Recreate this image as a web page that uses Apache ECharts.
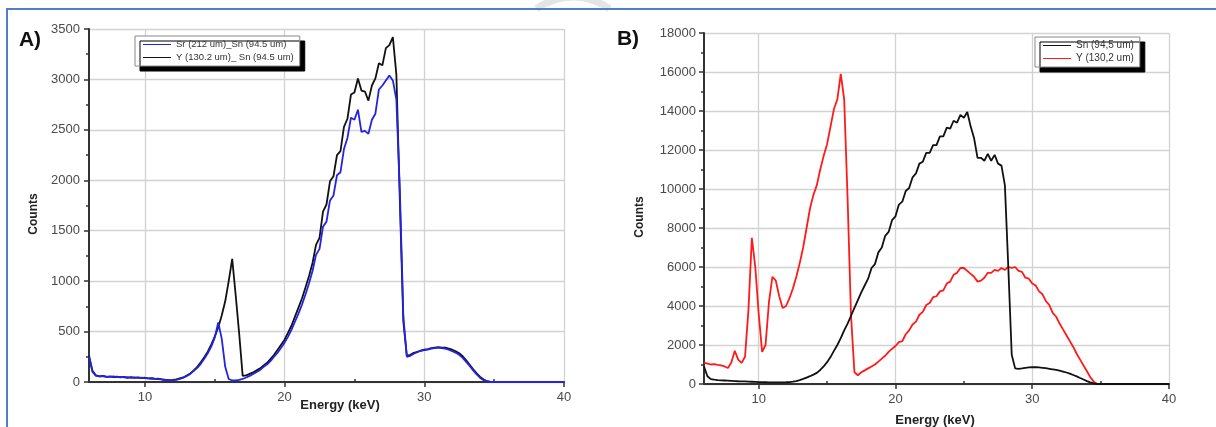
<!DOCTYPE html>
<html>
<head>
<meta charset="utf-8">
<script src="https://cdn.jsdelivr.net/npm/echarts@6/dist/echarts.min.js"></script>
<style>
html, body { margin: 0; padding: 0; background: #fff; }
#chart { width: 1216px; height: 427px; }
</style>
</head>
<body>
<div id="chart"></div>
<script>
// energie (keV), commune aux deux spectres
var energy = [
	6, 6.25, 6.5, 6.75, 7, 7.25, 7.5, 7.75,
	8, 8.25, 8.5, 8.75, 9, 9.25, 9.5, 9.75,
	10, 10.25, 10.5, 10.75, 11, 11.25, 11.5, 11.75,
	12, 12.25, 12.5, 12.75, 13, 13.25, 13.5, 13.75,
	14, 14.25, 14.5, 14.75, 15, 15.25, 15.5, 15.75,
	16, 16.25, 16.5, 16.75, 17, 17.25, 17.5, 17.75,
	18, 18.25, 18.5, 18.75, 19, 19.25, 19.5, 19.75,
	20, 20.25, 20.5, 20.75, 21, 21.25, 21.5, 21.75,
	22, 22.25, 22.5, 22.75, 23, 23.25, 23.5, 23.75,
	24, 24.25, 24.5, 24.75, 25, 25.25, 25.5, 25.75,
	26, 26.25, 26.5, 26.75, 27, 27.25, 27.5, 27.75,
	28, 28.25, 28.5, 28.75, 29, 29.25, 29.5, 29.75,
	30, 30.25, 30.5, 30.75, 31, 31.25, 31.5, 31.75,
	32, 32.25, 32.5, 32.75, 33, 33.25, 33.5, 33.75,
	34, 34.25, 34.5, 34.75, 35, 40
];

// panneau A : Sr (212 um)_Sn (94.5 um)
var countsSrSn = [
	250, 100, 60, 55, 58, 52, 50, 55,
	48, 50, 45, 48, 42, 45, 40, 42,
	38, 36, 32, 30, 28, 24, 20, 16,
	18, 22, 30, 42, 60, 80, 110, 140,
	180, 230, 285, 350, 440, 590, 430, 150,
	30, 15, 15, 20, 30, 45, 60, 80,
	100, 120, 150, 175, 210, 250, 290, 340,
	390, 450, 520, 600, 680, 770, 870, 980,
	1100, 1260, 1320, 1540, 1590, 1800, 1850, 2050,
	2080, 2310, 2420, 2620, 2600, 2700, 2480, 2490,
	2460, 2600, 2660, 2900, 2940, 2990, 3040, 2990,
	2800, 1900, 650, 250, 260, 280, 295, 310,
	315, 320, 330, 335, 340, 335, 330, 320,
	305, 290, 270, 240, 200, 160, 115, 75,
	40, 18, 5, 0, 0, 0
];

// panneau A : Y (130.2 um)_ Sn (94.5 um)
var countsYSn = [
	260, 110, 65, 55, 60, 50, 55, 48,
	52, 45, 50, 42, 48, 40, 45, 38,
	42, 35, 38, 30, 32, 25, 22, 18,
	20, 25, 35, 45, 65, 85, 115, 150,
	195, 245, 300, 370, 450, 540, 660, 800,
	1000, 1220, 860, 480, 60, 65, 80, 95,
	115, 135, 165, 190, 230, 270, 320, 370,
	420, 490, 560, 650, 740, 830, 940, 1050,
	1180, 1360, 1430, 1690, 1760, 1990, 2040, 2250,
	2290, 2530, 2610, 2850, 2870, 3010, 2890, 2880,
	2790, 2940, 3010, 3160, 3140, 3310, 3340, 3420,
	3050, 1800, 600, 260, 270, 290, 300, 310,
	320, 325, 335, 340, 345, 340, 340, 330,
	320, 305, 285, 255, 215, 170, 125, 85,
	50, 25, 8, 0, 0, 0
];

// panneau B : Sn (94,5 um)
var countsSn = [
	900, 400, 250, 220, 200, 190, 180, 170,
	160, 150, 140, 135, 130, 120, 115, 110,
	100, 95, 90, 85, 80, 80, 80, 85,
	90, 100, 120, 150, 200, 260, 330, 400,
	480, 570, 720, 900, 1120, 1380, 1700, 2000,
	2350, 2750, 3100, 3500, 3900, 4300, 4700, 5050,
	5400, 5950, 6150, 6750, 7000, 7600, 7800, 8400,
	8600, 9200, 9350, 9900, 10050, 10600, 10800, 11300,
	11400, 11850, 11850, 12250, 12250, 12700, 12700, 13150,
	13100, 13500, 13400, 13800, 13650, 13950, 13200, 12600,
	11600, 11600, 11450, 11800, 11450, 11750, 11300, 11200,
	10200, 6000, 1500, 800, 780, 800, 830, 850,
	870, 860, 850, 830, 810, 780, 750, 720,
	680, 640, 590, 530, 460, 390, 310, 230,
	150, 80, 30, 0, 0, 0
];

// panneau B : Y (130,2 um)
var countsY = [
	1100, 1050, 1000, 1020, 980, 950, 900, 820,
	1100, 1700, 1250, 1080, 1400, 3800, 7500, 6000,
	3600, 1650, 2000, 4200, 5500, 5300, 4500, 3900,
	4000, 4400, 4900, 5500, 6200, 7000, 8000, 9000,
	9700, 10200, 11000, 11700, 12300, 13200, 14100, 14600,
	15900, 14600, 9500, 3500, 600, 450, 600, 700,
	800, 900, 1000, 1150, 1300, 1450, 1650, 1800,
	1950, 2150, 2200, 2550, 2750, 3050, 3200, 3550,
	3700, 4050, 4150, 4450, 4500, 4750, 4800, 5150,
	5250, 5600, 5700, 5950, 5950, 5800, 5650, 5500,
	5250, 5300, 5450, 5700, 5700, 5850, 5800, 5950,
	5850, 6000, 5950, 6000, 5800, 5750, 5450, 5400,
	5150, 5050, 4750, 4600, 4250, 4050, 3650, 3450,
	3100, 2800, 2500, 2200, 1900, 1550, 1250, 950,
	650, 350, 120, 0, 0, 0
];

var xMajor = [10, 20, 30, 40];
var xMinor = [15, 25, 35];
var legendA = ['Sr (212 um)_Sn (94.5 um)', 'Y (130.2 um)_ Sn (94.5 um)'];
var legendB = ['Sn (94,5 um)', 'Y (130,2 um)'];

var FONT = '"Liberation Sans", Arial, sans-serif';

function pairs(xs, ys) {
	return xs.map(function(x, i) { return [x, ys[i]]; });
}

function mainX(grid) {
	return {
		type: 'value', gridIndex: grid, min: 6, max: 40,
		axisLine: { show: true, onZero: false, lineStyle: { color: '#333', width: 2 } },
		axisTick: { show: true, customValues: xMajor, length: 5, lineStyle: { color: '#333', width: 1.5 } },
		axisLabel: { customValues: xMajor, color: '#4a4a4a', fontSize: 13, fontFamily: FONT, margin: 9 },
		splitLine: { show: true, lineStyle: { color: '#d2d2d2', width: 1.3 } }
	};
}
function minorX(grid) {
	return {
		type: 'value', gridIndex: grid, min: 6, max: 40,
		axisLine: { show: false },
		axisTick: { show: true, customValues: xMinor, length: 3, lineStyle: { color: '#333', width: 1.5 } },
		axisLabel: { show: false },
		splitLine: { show: false }
	};
}
function yAx(grid, max, step, margin) {
	return {
		type: 'value', gridIndex: grid, min: 0, max: max, interval: step,
		axisLine: { show: true, lineStyle: { color: '#333', width: 2 } },
		axisTick: { show: true, length: 5, lineStyle: { color: '#333', width: 1.5 } },
		minorTick: { show: true, splitNumber: 2, length: 3, lineStyle: { color: '#333', width: 1.5 } },
		axisLabel: { color: '#4a4a4a', fontSize: 13, fontFamily: FONT, margin: margin,
			formatter: function(v) { return String(v); } },
		splitLine: { show: true, lineStyle: { color: '#d2d2d2', width: 1.3 } }
	};
}
function line(name, xi, yi, data, color, w) {
	return {
		name: name, type: 'line', xAxisIndex: xi, yAxisIndex: yi,
		data: data, showSymbol: false, symbol: 'none',
		lineStyle: { color: color, width: w }, itemStyle: { color: color },
		animation: false
	};
}
function legendBox(names, left, top, fs) {
	return {
		data: names, orient: 'vertical', left: left, top: top,
		icon: 'rect', itemWidth: 28, itemHeight: 1, itemGap: 2,
		padding: [3, 6, 3, 8],
		backgroundColor: '#fff', borderColor: '#888', borderWidth: 1,
		shadowColor: '#000', shadowOffsetX: 5, shadowOffsetY: 5, shadowBlur: 0,
		textStyle: { fontSize: fs, fontFamily: FONT, color: '#333', lineHeight: 11 },
		selectedMode: false
	};
}

var chart = echarts.init(document.getElementById('chart'));
chart.setOption({
	backgroundColor: '#fff',
	animation: false,
	grid: [
		{ left: 89, right: 652, top: 29, bottom: 45 },
		{ left: 704, right: 47, top: 33, bottom: 43 }
	],
	xAxis: [mainX(0), minorX(0), mainX(1), minorX(1)],
	yAxis: [yAx(0, 3500, 500, 9), yAx(1, 18000, 2000, 8)],
	legend: [legendBox(legendA, 135, 36, 9.5), legendBox(legendB, 1035, 37, 10)],
	series: [
		line(legendA[1], 0, 0, pairs(energy, countsYSn), '#111', 1.8),
		line(legendA[0], 0, 0, pairs(energy, countsSrSn), '#2323e6', 1.8),
		line(legendB[1], 2, 1, pairs(energy, countsY), '#ff1a1a', 1.8),
		line(legendB[0], 2, 1, pairs(energy, countsSn), '#111', 1.8)
	],
	graphic: [
		{ type: 'arc', z: 0, shape: { cx: 573, cy: 59, r: 62, startAngle: -2.2, endAngle: -0.94 },
			style: { stroke: '#e4e4e4', lineWidth: 7, fill: null } },
		{ type: 'rect', z: 1, shape: { x: 7, y: 9, width: 1300, height: 500 },
			style: { stroke: '#4f7fc4', lineWidth: 2, fill: null } },
		{ type: 'text', x: 30, y: 40, style: { text: 'A)', font: 'bold 21px ' + FONT, fill: '#111', textAlign: 'center', textVerticalAlign: 'middle' } },
		{ type: 'text', x: 628, y: 39, style: { text: 'B)', font: 'bold 21px ' + FONT, fill: '#111', textAlign: 'center', textVerticalAlign: 'middle' } },
		{ type: 'text', x: 34, y: 214, rotation: Math.PI / 2, style: { text: 'Counts', font: 'bold 12px ' + FONT, fill: '#222', textAlign: 'center', textVerticalAlign: 'middle' } },
		{ type: 'text', x: 640, y: 217, rotation: Math.PI / 2, style: { text: 'Counts', font: 'bold 12px ' + FONT, fill: '#222', textAlign: 'center', textVerticalAlign: 'middle' } },
		{ type: 'text', x: 340, y: 405, style: { text: 'Energy (keV)', font: 'bold 13px ' + FONT, fill: '#222', textAlign: 'center', textVerticalAlign: 'middle' } },
		{ type: 'text', x: 935, y: 420, style: { text: 'Energy (keV)', font: 'bold 13px ' + FONT, fill: '#222', textAlign: 'center', textVerticalAlign: 'middle' } }
	]
});
</script>
</body>
</html>
